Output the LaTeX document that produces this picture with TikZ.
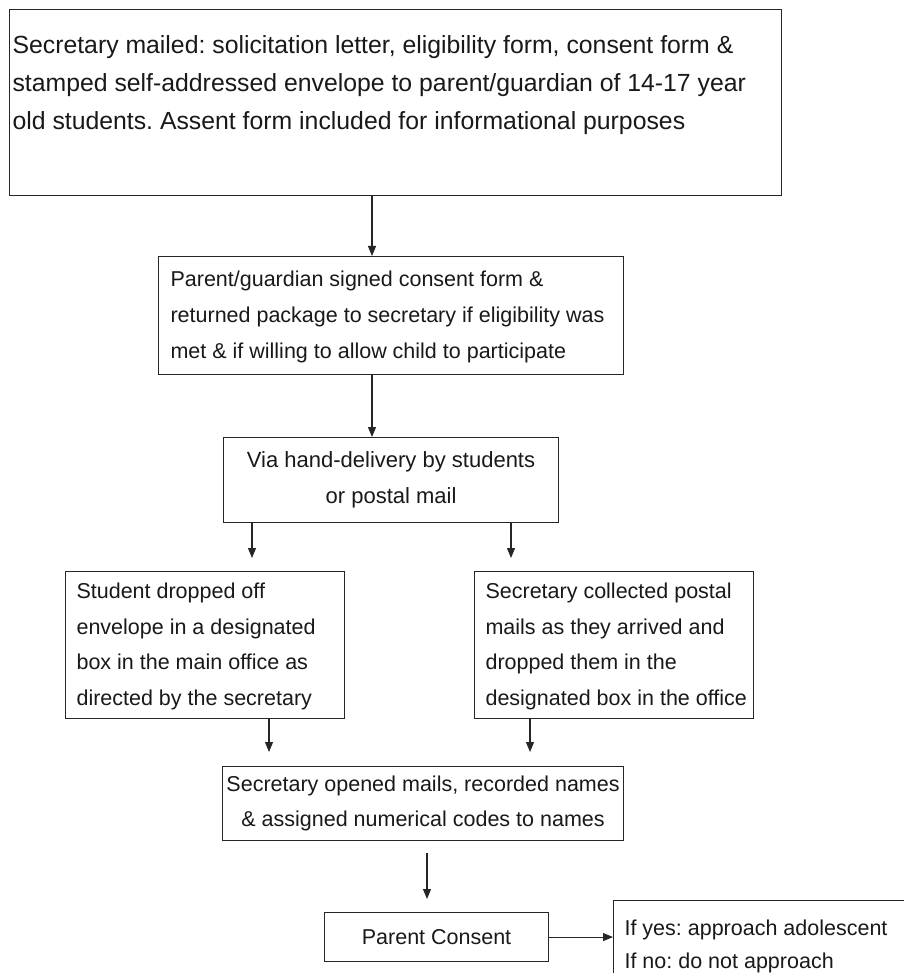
\documentclass[tikz,border=0pt]{standalone}
\usepackage{fontspec}
\setmainfont{Liberation Sans}
\usetikzlibrary{arrows.meta,calc}
\frenchspacing
\newcommand\leftlines[2]{\makebox[#1][l]{\begin{tabular}{@{}l@{}}#2\end{tabular}}}
\tikzset{
  box/.style={draw=black!85, line width=1.1pt, anchor=north west, inner ysep=0pt, text=black!90},
  ctext/.style={align=center, font=\fontsize{21.5}{35}\selectfont},
  arr/.style={draw=black!85, line width=1.1pt, -{Triangle[length=10pt,width=8pt]}}
}
\begin{document}
\frenchspacing
\begin{tikzpicture}[x=1pt,y=-1pt]
\path[use as bounding box, fill=white] (0,0) rectangle (903,973);

\node[box, inner xsep=3pt, minimum width=772pt, minimum height=186pt,
      font=\fontsize{24.8}{38}\selectfont] (b1) at (9,9)
  {\leftlines{766pt}{Secretary mailed: solicitation letter, eligibility form, consent form \&\\
   stamped self-addressed envelope to parent/guardian of 14-17 year\\
   old students. Assent form included for informational purposes\\ ~}};

\node[box, inner xsep=12pt, minimum width=465pt, minimum height=118pt,
      font=\fontsize{21.5}{36}\selectfont] (b2) at (158,256)
  {\leftlines{441pt}{Parent/guardian signed consent form \&\\
   returned package to secretary if eligibility was\\
   met \& if willing to allow child to participate}};

\node[box, ctext, font=\fontsize{22}{36}\selectfont, minimum width=335pt, minimum height=85pt] (b3) at (223,437)
  {Via hand-delivery by students\\ or postal mail};

\node[box, inner xsep=11pt, minimum width=279pt, minimum height=147pt,
      font=\fontsize{21.5}{35.5}\selectfont] (b4) at (65,571)
  {\leftlines{257pt}{Student dropped off\\
   envelope in a designated\\
   box in the main office as\\
   directed by the secretary}};

\node[box, inner xsep=11pt, minimum width=279pt, minimum height=147pt,
      font=\fontsize{21.5}{35.5}\selectfont] (b5) at (474,571)
  {\leftlines{257pt}{Secretary collected postal\\
   mails as they arrived and\\
   dropped them in the\\
   designated box in the office}};

\node[box, ctext, minimum width=401pt, minimum height=74pt] (b6) at (222,766)
  {Secretary opened mails, recorded names\\ \& assigned numerical codes to names};

\node[box, ctext, minimum width=224pt, minimum height=49pt] (b7) at (324,912)
  {Parent Consent};

\node[box, inner xsep=11pt, minimum width=320pt, minimum height=90pt,
      font=\fontsize{21.5}{33}\selectfont] (b8) at (613,900)
  {\leftlines{298pt}{If yes: approach adolescent\\
   If no: do not approach}};

\coordinate (xa) at (372,0);
\coordinate (xl) at (252,0);
\coordinate (xr) at (511,0);
\coordinate (xl2) at (269,0);
\coordinate (xr2) at (530,0);
\coordinate (xc) at (427,0);

\draw[arr] (b1.south -| xa) -- (b2.north -| xa);
\draw[arr] (b2.south -| xa) -- (b3.north -| xa);
\draw[arr, shorten >=13pt] (b3.south -| xl) -- (b4.north -| xl);
\draw[arr, shorten >=13pt] (b3.south -| xr) -- (b5.north -| xr);
\draw[arr, shorten >=14pt] (b4.south -| xl2) -- (b6.north -| xl2);
\draw[arr, shorten >=14pt] (b5.south -| xr2) -- (b6.north -| xr2);
\draw[arr, shorten <=12pt, shorten >=13pt] (b6.south -| xc) -- (b7.north -| xc);
\draw[arr] (b7.east) -- (b7.east -| b8.west);
\end{tikzpicture}
\end{document}
